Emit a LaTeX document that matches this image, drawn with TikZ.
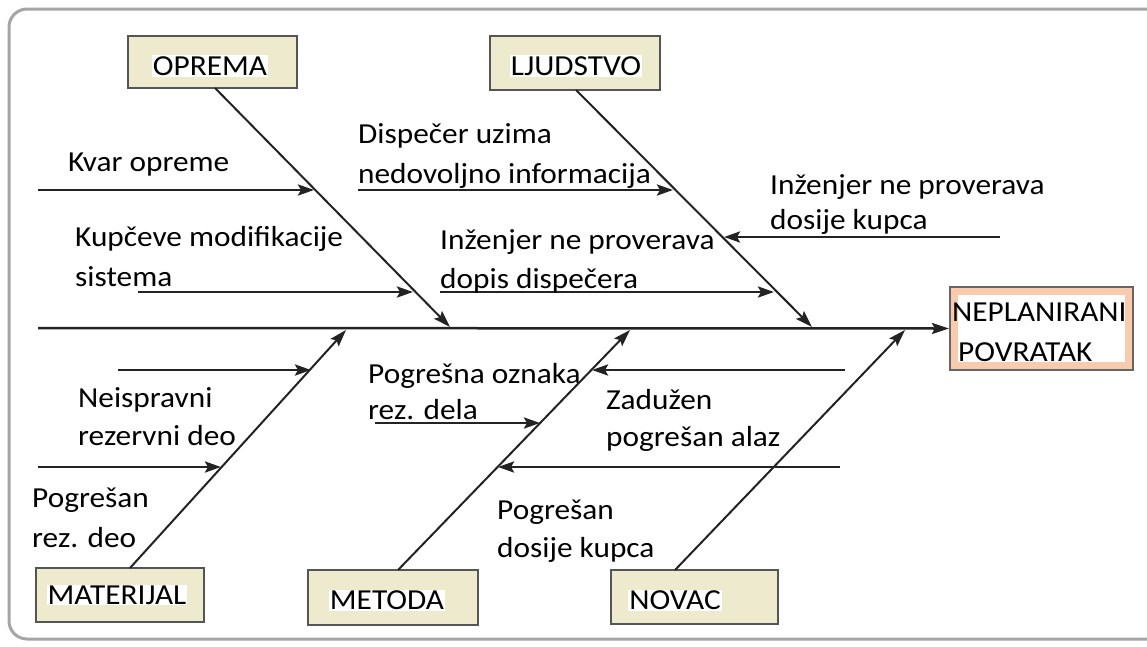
\documentclass[tikz,border=0pt]{standalone}
\usepackage{fontspec}
\setmainfont{Carlito}[FakeStretch=1.08]
\usetikzlibrary{arrows.meta}
\definecolor{boxfill}{RGB}{237,234,206}
\definecolor{boxline}{RGB}{85,85,85}
\definecolor{peach}{RGB}{248,203,173}
\definecolor{framec}{RGB}{165,165,165}
\definecolor{inkc}{RGB}{35,35,35}
\tikzset{
  txt/.style={anchor=base west, inner sep=0pt, font=\fontsize{29pt}{34pt}\selectfont},
  catbox/.style={draw=boxline, line width=2.5pt, fill=boxfill, minimum width=#1, inner sep=0pt},
  catlabel/.style={fill=white, inner sep=1pt, font=\fontsize{29pt}{34pt}\selectfont},
  bone/.style={draw=inkc, line width=2pt, -{Stealth[length=17pt,width=11pt,inset=3pt]}},
  twig/.style={draw=inkc, line width=2.8pt, -{Stealth[length=16pt,width=11pt,inset=3pt]}},
  spine/.style={draw=inkc, line width=2.5pt, -{Stealth[length=17pt,width=11pt,inset=3pt]}}
}
\begin{document}
\begin{tikzpicture}[x=1pt,y=-1pt]
\useasboundingbox (0,0) rectangle (1147,646);
\clip (0,0) rectangle (1147,646);
% frame
\draw[framec, line width=3pt, rounded corners=18pt] (9,9) rectangle (1180,639);

% category boxes
\node[catbox=169pt, minimum height=52pt] (oprema) at (212.5,62) {};
\node[catlabel] (opremaT) at (210,66) {OPREMA};
\node[catbox=170pt, minimum height=54pt] (ljudstvo) at (575,63) {};
\node[catlabel] (ljudstvoT) at (576,66) {LJUDSTVO};
\node[catbox=168pt, minimum height=54pt] (materijal) at (120,595) {};
\node[catlabel] (materijalT) at (117,595) {MATERIJAL};
\node[catbox=170pt, minimum height=55pt] (metoda) at (393,597.5) {};
\node[catlabel] (metodaT) at (387,600) {METODA};
\node[catbox=167pt, minimum height=54pt] (novac) at (694.5,597) {};
\node[catlabel] (novacT) at (675,600) {NOVAC};

% effect box
\node[draw=boxline!90, line width=2.2pt, fill=peach, minimum width=183pt, minimum height=83pt, inner sep=0pt] (effect) at (1041.5,328.5) {};
\node[fill=white, minimum width=167pt, minimum height=67pt, inner sep=0pt] (effectIn) at (1041.5,328.5) {};
\node[txt] (effT1) at (952,321) {NEPLANIRANI};
\node[txt] (effT2) at (958,361) {POVRATAK};

% spine
\coordinate (spineS) at (38,328);
\draw[spine] (spineS) -- (effect.west);

% bone coordinates
\coordinate (opS) at (215,88);   \coordinate (opE) at (450,327);
\coordinate (ljS) at (576,90);   \coordinate (ljE) at (812,327);
\coordinate (maS) at (130,568);  \coordinate (maE) at (346,330);
\coordinate (meS) at (398,570);  \coordinate (meE) at (630,330);
\coordinate (noS) at (675,570);  \coordinate (noE) at (905,330);
\draw[bone] (opS) -- (opE);
\draw[bone] (ljS) -- (ljE);
\draw[bone] (maS) -- (maE);
\draw[bone] (meS) -- (meE);
\draw[bone] (noS) -- (noE);

% twig coordinates
\coordinate (a1s) at (38,190);   \coordinate (a1e) at (314,190);
\coordinate (a2s) at (138,292);  \coordinate (a2e) at (413,292);
\coordinate (a3s) at (358,190);  \coordinate (a3e) at (673,190);
\coordinate (a4s) at (440,292);  \coordinate (a4e) at (774,292);
\coordinate (a5s) at (1000,237); \coordinate (a5e) at (724,237);
\coordinate (b1s) at (118,370);  \coordinate (b1e) at (311,370);
\coordinate (b2s) at (38,467);   \coordinate (b2e) at (221,467);
\coordinate (b3s) at (375,423);  \coordinate (b3e) at (540,423);
\coordinate (b4s) at (845,370);  \coordinate (b4e) at (592,370);
\coordinate (b5s) at (840,467);  \coordinate (b5e) at (498,467);
\foreach \t in {a1,a2,a3,a4,a5,b1,b2,b3,b4,b5}{\draw[twig] (\t s) -- (\t e);}

% texts
\node[txt] (t1) at (68,171) {Kvar opreme};
\node[txt] (t2a) at (75,246) {Kupčeve modifikacije};
\node[txt] (t2b) at (75,286) {sistema};
\node[txt] (t3a) at (358,143) {Dispečer uzima};
\node[txt] (t3b) at (358,183) {nedovoljno informacija};
\node[txt] (t4a) at (440,249) {Inženjer ne proverava};
\node[txt] (t4b) at (440,288) {dopis dispečera};
\node[txt] (t5a) at (770,194) {Inženjer ne proverava};
\node[txt] (t5b) at (770,229) {dosije kupca};
\node[txt] (t6a) at (78,407) {Neispravni};
\node[txt] (t6b) at (78,445) {rezervni deo};
\node[txt] (t7a) at (32,507) {Pogrešan};
\node[txt] (t7b) at (32,547) {rez. deo};
\node[txt] (t8a) at (368,383) {Pogrešna oznaka};
\node[txt] (t8b) at (368,419) {rez. dela};
\node[txt] (t9a) at (606,409) {Zadužen};
\node[txt] (t9b) at (606,446) {pogrešan alaz};
\node[txt] (t10a) at (497,519) {Pogrešan};
\node[txt] (t10b) at (497,557) {dosije kupca};
\end{tikzpicture}
\end{document}
